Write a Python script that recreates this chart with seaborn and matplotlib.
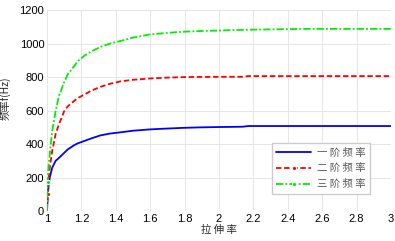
import numpy as np
import pandas as pd
import seaborn as sns
import matplotlib
matplotlib.use("Agg")
import matplotlib.pyplot as plt

stretch = [1.0, 1.004, 1.01, 1.016, 1.03, 1.05, 1.07, 1.08, 1.1, 1.12, 1.16, 1.18, 1.22,
           1.26, 1.31, 1.366, 1.424, 1.5, 1.6, 1.7, 1.79, 1.89, 2.0, 2.08, 2.14, 2.17,
           2.3, 2.51, 2.7, 2.9, 3.0]
freq1 = [0, 90, 159, 200, 259, 300, 318, 328, 348, 368, 395, 405, 420,
         435, 452, 463, 470, 480, 488, 493, 497, 500, 502, 503, 504, 508,
         508, 508, 508, 508, 508]
freq2 = [0, 100, 199, 260, 358, 460, 520, 545, 597, 625, 660, 675, 698,
         720, 742, 760, 774, 784, 792, 797, 800, 801, 802, 802, 802, 806,
         806, 806, 806, 806, 806]
freq3 = [0, 176, 280, 340, 477, 597, 690, 716, 770, 816, 868, 896, 930,
         955, 980, 1000, 1015, 1036, 1055, 1064, 1071, 1075, 1078, 1081, 1082, 1083,
         1085, 1088, 1088, 1088, 1088]
labels = ["一 阶 频 率", "二 阶 频 率", "三 阶 频 率"]
xticks = [1, 1.2, 1.4, 1.6, 1.8, 2, 2.2, 2.4, 2.6, 2.8, 3]
yticks = [0, 200, 400, 600, 800, 1000, 1200]

sns.set_theme(style="whitegrid")
plt.rcParams['font.family'] = ['Liberation Sans', 'Noto Sans CJK SC', 'DejaVu Sans']

fig = plt.figure(figsize=(3.95, 2.41), dpi=100)
ax = fig.add_axes([0.119, 0.124, 0.871, 0.834])

df = pd.DataFrame({"x": stretch, labels[0]: freq1, labels[1]: freq2, labels[2]: freq3})
sns.lineplot(data=df, x="x", y=labels[0], ax=ax, color="#0000ff", lw=1.3, label=labels[0])
sns.lineplot(data=df, x="x", y=labels[1], ax=ax, color="#ff0000", lw=1.3, label=labels[1],
             linestyle=(0, (3, 1.5)))
sns.lineplot(data=df, x="x", y=labels[2], ax=ax, color="#00ee00", lw=1.3, label=labels[2],
             linestyle=(0, (4, 1.2, 1, 1.2)))

ax.set_xlim(1, 3)
ax.set_ylim(0, 1200)
ax.set_xticks(xticks)
ax.set_xticklabels([f"{t:g}" for t in xticks])
ax.set_yticks(yticks)
ax.tick_params(labelsize=8, pad=2, colors="black", length=0)
for s in ax.spines.values():
    s.set_visible(False)
ax.grid(True, color="#e6e6e6", lw=0.7)
ax.set_facecolor("white")
ax.set_xlabel("拉 伸 率", fontsize=7.5, labelpad=1, family=['Noto Sans CJK SC'])
ax.set_ylabel("频率f(Hz)", fontsize=7.5, labelpad=4, family=['Noto Sans CJK SC', 'DejaVu Sans'])
ax.yaxis.set_label_coords(-0.105, 0.56)

h, l = ax.get_legend_handles_labels()
h[1].set_marker('o'); h[1].set_markersize(3); h[1].set_markevery([1])
h[2].set_marker('o'); h[2].set_markersize(3); h[2].set_markevery([1])
leg = ax.legend(h, l, loc="lower right", bbox_to_anchor=(0.955, 0.06),
                frameon=True, fancybox=False, edgecolor="#cccccc", framealpha=1,
                handlelength=3.3, handletextpad=0.6, borderpad=0.45, labelspacing=0.55,
                prop={'family': ['Noto Sans CJK SC'], 'size': 7.5})
for t in leg.get_texts():
    t.set_color("#555555")

fig.savefig("out.png", dpi=100, facecolor="white")
